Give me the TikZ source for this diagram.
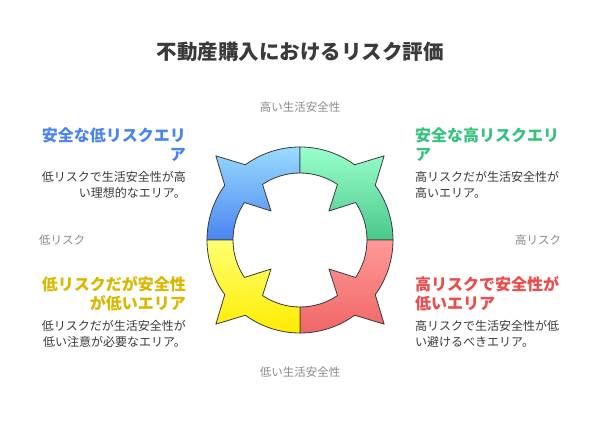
\documentclass[tikz,border=0pt]{standalone}
\usepackage{fontspec}
\setmainfont{Noto Sans CJK JP}
\usetikzlibrary{positioning}
\definecolor{ink}{HTML}{3A3A3A}
\definecolor{axis}{HTML}{8A8A8A}
\definecolor{blueh}{HTML}{4A84F0}
\definecolor{greenh}{HTML}{35C27E}
\definecolor{redh}{HTML}{EE4B4B}
\definecolor{yellowh}{HTML}{D9B800}
\tikzset{
  x = 1pt,
  y = 1pt,
  axislabel/.style = {text = axis, font = \fontsize{11.5}{13}\selectfont},
  heading/.style = {font = \fontsize{16}{19}\selectfont\bfseries, inner sep = 0pt},
  body/.style = {text = ink, font = \fontsize{12}{16}\selectfont, inner sep = 0pt},
  quad/.style = {draw = ink, line width = 0.8pt, line join = round},
}
\newcommand{\quadrant}[1]{%
  (90+#1:93) arc[start angle = 90+#1, end angle = 126+#1, radius = 93]
  -- (135+#1:119) -- (144+#1:93)
  arc[start angle = 144+#1, end angle = 180+#1, radius = 93]
  -- (180+#1:67) arc[start angle = 180+#1, end angle = 146+#1, radius = 67]
  -- (135+#1:41) -- (124+#1:67)
  arc[start angle = 124+#1, end angle = 90+#1, radius = 67] -- cycle}

\begin{document}
\begin{tikzpicture}
    \useasboundingbox[fill = white] (0,0) rectangle (600,432);
    \node [text = ink, font = \fontsize{20.5}{24}\selectfont\bfseries] (title) at (300,380) {不動産購入におけるリスク評価};
    % ring
    \begin{scope}[shift = {(300,192)}]
      \path [quad, top color = blue!35!cyan!40, bottom color = blueh] \quadrant{0};
      \path [quad, top color = green!50!cyan!40, bottom color = greenh!90] \quadrant{-90};
      \path [quad, top color = red!40, bottom color = redh!85] \quadrant{-180};
      \path [quad, top color = yellow!55, bottom color = yellow!85!orange] \quadrant{90};
    \end{scope}
    % axes
    \node [axislabel] (top) at (300,325) {高い生活安全性};
    \node [axislabel] (bottom) at (300,60) {低い生活安全性};
    \node [axislabel] (left) at (62,192) {低リスク};
    \node [axislabel] (right) at (538,192) {高リスク};
    % quadrants
    \node [heading, text = blueh, align = right, anchor = north east] (hblue) at (186,304) {安全な低リスクエリ\\ア};
    \node [body, align = right, below left = 9pt and 0pt of hblue.south east] (bblue) {低リスクで生活安全性が高\\い理想的なエリア。};
    \node [heading, text = greenh, align = left, anchor = north west] (hgreen) at (415,304) {安全な高リスクエリ\\ア};
    \node [body, align = left, below right = 9pt and 0pt of hgreen.south west] (bgreen) {高リスクだが生活安全性が\\高いエリア。};
    \node [heading, text = yellowh, align = right, anchor = north east] (hyellow) at (186,156) {低リスクだが安全性\\が低いエリア};
    \node [body, align = right, below left = 9pt and 0pt of hyellow.south east] (byellow) {低リスクだが生活安全性が\\低い注意が必要なエリア。};
    \node [heading, text = redh, align = left, anchor = north west] (hred) at (415,156) {高リスクで安全性が\\低いエリア};
    \node [body, align = left, below right = 9pt and 0pt of hred.south west] (bred) {高リスクで生活安全性が低\\い避けるべきエリア。};
\end{tikzpicture}
\end{document}
